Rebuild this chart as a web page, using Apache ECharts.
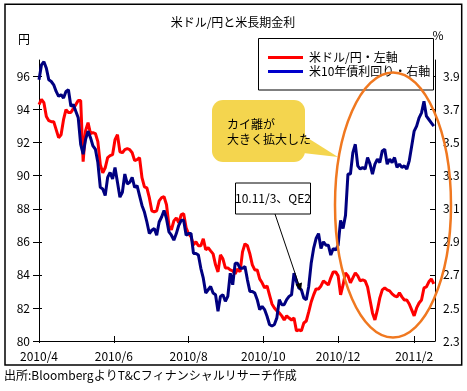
<!DOCTYPE html>
<html><head><meta charset="utf-8">
<script src="https://cdn.jsdelivr.net/npm/echarts@6/dist/echarts.min.js"></script>
<style>html,body{margin:0;padding:0;background:#fff}#c{width:467px;height:391px}</style>
</head><body><div id="c"></div>
<script>
const dates = [
'2010-04-01','2010-04-03','2010-04-05','2010-04-07','2010-04-09','2010-04-11','2010-04-13','2010-04-15','2010-04-17','2010-04-19',
'2010-04-21','2010-04-23','2010-04-25','2010-04-27','2010-04-29','2010-05-01','2010-05-03','2010-05-05','2010-05-07','2010-05-09',
'2010-05-11','2010-05-13','2010-05-15','2010-05-17','2010-05-19','2010-05-21','2010-05-23','2010-05-25','2010-05-27','2010-05-29',
'2010-05-31','2010-06-02','2010-06-04','2010-06-06','2010-06-08','2010-06-10','2010-06-12','2010-06-14','2010-06-16','2010-06-18',
'2010-06-20','2010-06-22','2010-06-24','2010-06-26','2010-06-28','2010-06-30','2010-07-02','2010-07-04','2010-07-06','2010-07-08',
'2010-07-10','2010-07-12','2010-07-14','2010-07-16','2010-07-18','2010-07-20','2010-07-22','2010-07-24','2010-07-26','2010-07-28',
'2010-07-30','2010-08-01','2010-08-03','2010-08-05','2010-08-07','2010-08-09','2010-08-11','2010-08-13','2010-08-15','2010-08-17',
'2010-08-19','2010-08-21','2010-08-23','2010-08-25','2010-08-27','2010-08-29','2010-08-31','2010-09-02','2010-09-04','2010-09-06',
'2010-09-08','2010-09-10','2010-09-12','2010-09-14','2010-09-16','2010-09-18','2010-09-20','2010-09-22','2010-09-24','2010-09-26',
'2010-09-28','2010-09-30','2010-10-02','2010-10-04','2010-10-06','2010-10-08','2010-10-10','2010-10-12','2010-10-14','2010-10-16',
'2010-10-18','2010-10-20','2010-10-22','2010-10-24','2010-10-26','2010-10-28','2010-10-30','2010-11-01','2010-11-03','2010-11-05',
'2010-11-07','2010-11-09','2010-11-11','2010-11-13','2010-11-15','2010-11-17','2010-11-19','2010-11-21','2010-11-23','2010-11-25',
'2010-11-27','2010-11-29','2010-12-01','2010-12-03','2010-12-05','2010-12-07','2010-12-09','2010-12-11','2010-12-13','2010-12-15',
'2010-12-17','2010-12-19','2010-12-21','2010-12-23','2010-12-25','2010-12-27','2010-12-29','2010-12-31','2011-01-02','2011-01-04',
'2011-01-06','2011-01-08','2011-01-10','2011-01-12','2011-01-14','2011-01-16','2011-01-18','2011-01-20','2011-01-22','2011-01-24',
'2011-01-26','2011-01-28','2011-01-30','2011-02-01','2011-02-03','2011-02-05','2011-02-07','2011-02-09','2011-02-11','2011-02-13',
'2011-02-15','2011-02-17'
];
const usdJpy = [
94.30,94.61,94.42,93.58,93.33,93.27,93.27,92.79,92.30,92.48,
93.39,94.00,93.82,93.82,94.06,94.30,94.55,94.55,90.85,92.73,
93.21,92.55,92.61,92.55,92.06,90.67,90.18,90.48,91.09,91.21,
91.27,92.18,92.48,91.45,91.39,91.58,91.64,91.58,91.39,90.91,
90.97,91.09,89.88,89.33,89.27,88.67,87.88,87.82,87.88,88.48,
88.67,88.73,88.24,86.97,86.73,87.27,87.45,87.15,87.64,87.70,
86.85,86.48,86.30,85.82,86.00,85.76,85.76,86.18,85.52,85.64,
85.45,85.27,84.61,84.18,85.21,84.97,84.42,84.42,84.30,84.24,
84.06,84.36,84.18,85.39,85.88,85.76,85.27,84.61,84.30,84.30,
83.76,83.52,83.21,83.33,82.79,82.24,82.00,81.82,81.70,81.52,
81.27,81.52,81.39,81.27,81.39,80.61,80.67,80.61,81.09,81.21,
81.76,82.36,82.79,83.15,83.15,83.33,83.64,83.52,83.39,83.82,
84.18,84.18,83.94,82.79,83.39,84.12,83.94,83.52,83.82,84.12,
83.94,83.64,83.70,83.64,83.27,82.48,81.70,81.27,81.88,82.61,
83.09,83.21,83.09,83.03,82.85,82.73,82.67,82.91,82.67,82.48,
82.48,82.24,81.88,81.52,82.00,82.30,82.48,83.21,83.27,83.58,
83.76,83.45
];
const us10y = [
3.88,3.97,3.99,3.95,3.88,3.87,3.85,3.81,3.78,3.79,
3.77,3.81,3.82,3.72,3.73,3.69,3.65,3.49,3.43,3.52,
3.57,3.53,3.48,3.46,3.38,3.23,3.22,3.18,3.29,3.32,
3.28,3.35,3.26,3.17,3.20,3.31,3.25,3.26,3.29,3.23,
3.24,3.18,3.12,3.08,3.02,2.95,2.97,2.98,2.94,3.02,
3.05,3.09,3.04,2.96,2.94,2.91,2.95,3.00,3.03,3.03,
2.94,2.95,2.95,2.83,2.83,2.82,2.74,2.68,2.59,2.61,
2.63,2.59,2.58,2.48,2.57,2.58,2.54,2.57,2.71,2.64,
2.77,2.77,2.74,2.74,2.75,2.67,2.60,2.60,2.59,2.55,
2.49,2.51,2.49,2.45,2.40,2.39,2.40,2.44,2.55,2.52,
2.52,2.55,2.57,2.58,2.71,2.66,2.62,2.61,2.56,2.55,
2.63,2.77,2.86,2.92,2.95,2.86,2.90,2.88,2.88,2.82,
2.86,2.85,2.88,3.03,2.98,3.06,3.31,3.31,3.44,3.49,
3.36,3.34,3.35,3.34,3.41,3.37,3.31,3.37,3.40,3.38,
3.45,3.46,3.37,3.40,3.38,3.41,3.35,3.37,3.35,3.36,
3.34,3.39,3.48,3.57,3.60,3.65,3.68,3.75,3.66,3.64,
3.62,3.60
];
const leftTicks = [80,82,84,86,88,90,92,94,96];
const rightTicks = [2.3,2.5,2.7,2.9,3.1,3.3,3.5,3.7,3.9];
const xTickDates = ['2010-04-01','2010-06-01','2010-08-01','2010-10-01','2010-12-01','2011-02-01'];
const xRange = ['2010-04-01','2011-02-18'];
const leftRange = [80, 97];
const rightRange = [2.3, 4.0];
const titleText = '米ドル/円と米長期金利';
const seriesNames = ['米ドル/円・左軸', '米10年債利回り・右軸'];
const calloutLines = ['カイ離が', '大きく拡大した'];
const qe2Text = '10.11/3、QE2';
const sourceText = '出所:BloombergよりT&Cフィナンシャルリサーチ作成';

const FF = '"Noto Sans CJK JP", "Noto Sans", sans-serif';
const ts = s => Date.parse(s + 'T00:00:00Z');
const xTicks = xTickDates.map(ts);
const redData = dates.map((d, i) => [ts(d), usdJpy[i]]);
const blueData = dates.map((d, i) => [ts(d), us10y[i]]);

const chart = echarts.init(document.getElementById('c'), null, {renderer: 'canvas'});
const lab = {color: '#000', fontSize: 12, fontFamily: FF};
const axLine = {show: true, lineStyle: {color: '#000', width: 1}};

chart.setOption({
  animation: false,
  backgroundColor: '#fff',
  grid: {left: 39, right: 32, top: 60, bottom: 50, containLabel: false},
  xAxis: [{
    type: 'value', min: ts(xRange[0]), max: ts(xRange[1]),
    splitLine: {show: false}, axisLine: axLine,
    axisTick: {show: true, inside: true, length: 5, customValues: xTicks, lineStyle: {color: '#000'}},
    axisLabel: Object.assign({margin: 9, customValues: xTicks,
      formatter: v => { const d = new Date(v); return d.getUTCFullYear() + '/' + (d.getUTCMonth() + 1); }}, lab)
  }, {
    type: 'value', min: ts(xRange[0]), max: ts(xRange[1]), position: 'bottom',
    splitLine: {show: false}, axisLine: {show: false}, axisLabel: {show: false},
    axisTick: {show: true, inside: false, length: 2, customValues: xTicks, lineStyle: {color: '#000'}}
  }],
  yAxis: [{
    type: 'value', position: 'left', min: leftRange[0], max: leftRange[1],
    splitLine: {show: false}, axisLine: axLine,
    axisTick: {show: true, inside: false, length: 6, customValues: leftTicks, lineStyle: {color: '#000'}},
    axisLabel: Object.assign({margin: 9, customValues: leftTicks}, lab)
  }, {
    type: 'value', position: 'right', min: rightRange[0], max: rightRange[1],
    splitLine: {show: false}, axisLine: axLine,
    axisTick: {show: true, inside: true, length: 5, customValues: rightTicks, lineStyle: {color: '#000'}},
    axisLabel: Object.assign({margin: 8, customValues: rightTicks, formatter: v => v.toFixed(1)}, lab)
  }, {
    type: 'value', position: 'left', min: leftRange[0], max: leftRange[1],
    splitLine: {show: false}, axisLine: {show: false}, axisLabel: {show: false},
    axisTick: {show: true, inside: true, length: 3, customValues: leftTicks, lineStyle: {color: '#000'}}
  }],
  series: [{
    name: seriesNames[0], type: 'line', xAxisIndex: 0, yAxisIndex: 0, data: redData,
    showSymbol: false, symbol: 'none', lineStyle: {color: '#FF0000', width: 3}, z: 2
  }, {
    name: seriesNames[1], type: 'line', xAxisIndex: 0, yAxisIndex: 1, data: blueData,
    showSymbol: false, symbol: 'none', lineStyle: {color: '#000080', width: 3}, z: 3
  }],
  graphic: [
    {type: 'rect', z: 1, silent: true, shape: {x: 5, y: 4.3, width: 456.7, height: 360.7},
      style: {fill: 'none', stroke: '#000', lineWidth: 1.5}},
    {type: 'text', z: 5, style: {text: titleText, x: 233, y: 22, textAlign: 'center', textVerticalAlign: 'middle', font: '12px ' + FF, fill: '#000'}},
    {type: 'text', z: 5, style: {text: '円', x: 24, y: 39, textAlign: 'center', textVerticalAlign: 'middle', font: '12px ' + FF, fill: '#000'}},
    {type: 'text', z: 5, style: {text: '%', x: 438, y: 35, textAlign: 'center', textVerticalAlign: 'middle', font: '12px ' + FF, fill: '#000'}},
    // legend
    {type: 'rect', z: 10, shape: {x: 258.5, y: 38.5, width: 175, height: 51.5}, style: {fill: '#fff', stroke: '#000', lineWidth: 1}},
    {type: 'line', z: 11, shape: {x1: 268, y1: 57.5, x2: 303, y2: 57.5}, style: {stroke: '#FF0000', lineWidth: 3}},
    {type: 'line', z: 11, shape: {x1: 268, y1: 71.5, x2: 303, y2: 71.5}, style: {stroke: '#0000CC', lineWidth: 3}},
    {type: 'text', z: 11, style: {text: seriesNames[0], x: 309, y: 57.5, textAlign: 'left', textVerticalAlign: 'middle', font: '12px ' + FF, fill: '#000'}},
    {type: 'text', z: 11, style: {text: seriesNames[1], x: 309, y: 71.5, textAlign: 'left', textVerticalAlign: 'middle', font: '12px ' + FF, fill: '#000'}},
    // callout
    {type: 'polygon', z: 10, shape: {points: [[303, 135], [338, 157], [303, 153]]}, style: {fill: '#F4D54E'}},
    {type: 'rect', z: 10, shape: {x: 212, y: 100, width: 93, height: 62, r: 11}, style: {fill: '#F4D54E'}},
    {type: 'text', z: 11, style: {text: calloutLines[0], x: 227, y: 124.5, textAlign: 'left', textVerticalAlign: 'middle', font: '12px ' + FF, fill: '#000'}},
    {type: 'text', z: 11, style: {text: calloutLines[1], x: 227, y: 139.5, textAlign: 'left', textVerticalAlign: 'middle', font: '12px ' + FF, fill: '#000'}},
    // QE2 box + arrow
    {type: 'rect', z: 10, shape: {x: 235.5, y: 183, width: 75, height: 31}, style: {fill: '#fff', stroke: '#000', lineWidth: 1}},
    {type: 'text', z: 11, style: {text: qe2Text, x: 273, y: 198.5, textAlign: 'center', textVerticalAlign: 'middle', font: '12px ' + FF, fill: '#000'}},
    {type: 'line', z: 10, shape: {x1: 275, y1: 214, x2: 299, y2: 285}, style: {stroke: '#000', lineWidth: 1}},
    {type: 'polygon', z: 10, shape: {points: [[301, 291], [302, 282.5], [295.5, 284.5]]}, style: {fill: '#000'}},
    // orange ellipse
    {type: 'ellipse', z: 20, shape: {cx: 393, cy: 205, rx: 58, ry: 132.5}, style: {fill: 'none', stroke: '#F07820', lineWidth: 2.5}},
    // source
    {type: 'text', z: 5, style: {text: sourceText, x: 4, y: 375, textAlign: 'left', textVerticalAlign: 'middle', font: '12px ' + FF, fill: '#000'}}
  ]
});
</script>
</body></html>
